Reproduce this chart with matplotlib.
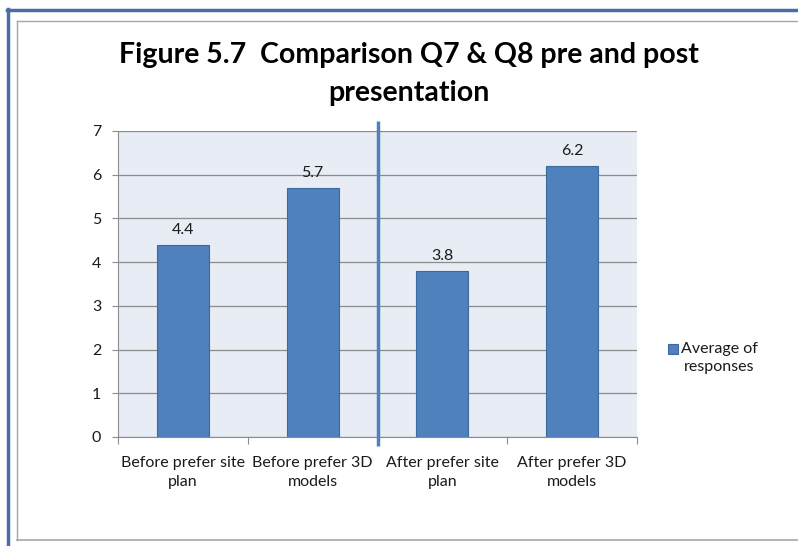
import matplotlib.pyplot as plt
from matplotlib.lines import Line2D
from matplotlib.patches import Rectangle

categories = ["Before prefer site\nplan", "Before prefer 3D\nmodels",
              "After prefer site\nplan", "After prefer 3D\nmodels"]
values = [4.4, 5.7, 3.8, 6.2]
series_name = "Average of\nresponses"
title = "Figure 5.7  Comparison Q7 & Q8 pre and post\npresentation"

plt.rcParams["font.family"] = ["Lato", "DejaVu Sans"]

W, H = 798, 546
fig = plt.figure(figsize=(W / 100, H / 100), dpi=100)

# outer frame lines (pixel coords -> figure fraction)
def fx(x):
    return x / W

def fy(y):
    return 1 - y / H

fig.add_artist(Line2D([fx(8), fx(8)], [fy(9), fy(546)], color="#4A6FA5", lw=2.5))
fig.add_artist(Line2D([fx(7), fx(798)], [fy(10), fy(10)], color="#4A6FA5", lw=2.5))
fig.add_artist(Line2D([fx(17), fx(798)], [fy(20.5), fy(20.5)], color="#A6A6A6", lw=1))
fig.add_artist(Line2D([fx(17), fx(17)], [fy(20.5), fy(540)], color="#A6A6A6", lw=1))
fig.add_artist(Line2D([fx(17), fx(798)], [fy(540), fy(540)], color="#A6A6A6", lw=1.2))

ax = fig.add_axes([fx(118), fy(437), fx(637) - fx(118), fy(131) - fy(437)])
ax.set_facecolor("#E8ECF5")

x = range(len(values))
bars = ax.bar(x, values, width=0.4, color="#4F81BD", edgecolor="#3D6A9E",
              linewidth=0.8, zorder=3, label=series_name)
for xi, v in zip(x, values):
    ax.text(xi, v + 0.18, f"{v:.1f}", ha="center", va="bottom", fontsize=11.5,
            color="#1a1a1a", zorder=4)

ax.set_xlim(-0.5, len(values) - 0.5)
ax.set_ylim(0, 7)
ax.set_yticks(range(8))
ax.yaxis.grid(True, color="#8C8C8C", lw=0.9, zorder=1)
ax.set_axisbelow(True)

ax.set_xticks([i + 0.5 for i in range(-1, len(values))])
ax.set_xticklabels([])
ax.set_xticks(list(x), minor=True)
ax.set_xticklabels(categories, minor=True, fontsize=11.5, color="#1a1a1a",
                   linespacing=1.45)
ax.tick_params(axis="x", which="minor", length=0, pad=14)
ax.tick_params(axis="x", which="major", length=5, color="#8C8C8C", direction="out")
ax.tick_params(axis="y", length=4, color="#8C8C8C", labelsize=11.5,
               labelcolor="#1a1a1a", pad=8)

for s in ["top", "right"]:
    ax.spines[s].set_visible(False)
for s in ["left", "bottom"]:
    ax.spines[s].set_color("#8C8C8C")

# divider between before and after
ax.plot([1.5, 1.5], [7.23, -0.21], color="#4F81BD", lw=2.5, zorder=5,
        clip_on=False, solid_capstyle="butt")

fig.text(fx(409), fy(74), title, ha="center", va="center", fontsize=20.5,
         fontweight="bold", color="#000000", linespacing=1.6)

fig.add_artist(Rectangle((fx(668), fy(354)), fx(10), 10 / H, facecolor="#4F81BD",
                         edgecolor="#3D6A9E", lw=0.8))
fig.text(fx(681), fy(358), series_name, ha="left", va="center", fontsize=11.5,
         color="#1a1a1a", linespacing=1.45, multialignment="center")

fig.savefig("out.png", dpi=100)
